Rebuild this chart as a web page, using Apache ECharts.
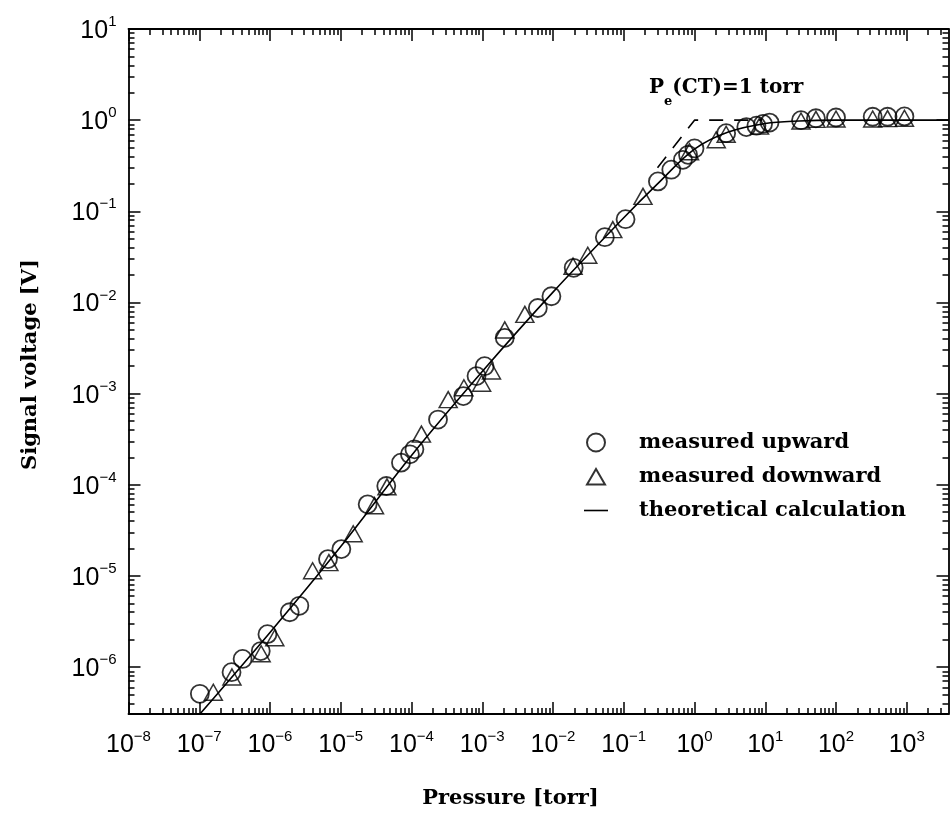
<!DOCTYPE html>
<html><head><meta charset="utf-8">
<script src="https://cdn.jsdelivr.net/npm/echarts@6/dist/echarts.min.js"></script>
<style>html,body{margin:0;padding:0;background:#fff}#c{width:950px;height:814px}</style>
</head><body><div id="c"></div>
<script>
// ---- tick labels (decade exponents) ----
const xTickExponents = [-8, -7, -6, -5, -4, -3, -2, -1, 0, 1, 2, 3];
const yTickExponents = [-6, -5, -4, -3, -2, -1, 0, 1];

// ---- measured upward (circles) ----
const upP = [1.02e-7, 2.86e-7, 4.1e-7, 7.4e-7, 9.2e-7, 1.9e-6, 2.6e-6, 6.6e-6, 1.02e-5, 2.4e-5,
  4.4e-5, 7.1e-5, 9.5e-5, 1.1e-4, 2.37e-4, 5.4e-4, 8.3e-4, 1.08e-3, 2.08e-3, 6.1e-3,
  9.5e-3, 1.96e-2, 5.4e-2, 0.106, 0.304, 0.47, 0.686, 0.81, 1.0, 2.8,
  5.4, 7.5, 9.3, 11.5, 32, 52, 100, 330, 535, 927];
const upV = [5.1e-7, 8.8e-7, 1.23e-6, 1.5e-6, 2.3e-6, 4.0e-6, 4.7e-6, 1.53e-5, 1.97e-5, 6.1e-5,
  9.7e-5, 1.75e-4, 2.16e-4, 2.45e-4, 5.2e-4, 9.4e-4, 1.56e-3, 2.0e-3, 4.1e-3, 8.7e-3,
  1.17e-2, 2.4e-2, 5.2e-2, 8.2e-2, 0.213, 0.286, 0.367, 0.417, 0.49, 0.72,
  0.84, 0.87, 0.91, 0.94, 1.0, 1.05, 1.07, 1.09, 1.09, 1.1];

// ---- measured downward (triangles) ----
const downP = [1.58e-7, 2.9e-7, 7.5e-7, 1.17e-6, 4.0e-6, 6.8e-6, 1.5e-5, 3.0e-5, 4.5e-5, 1.38e-4,
  3.3e-4, 5.5e-4, 9.8e-4, 1.35e-3, 2.08e-3, 4.0e-3, 1.92e-2, 3.1e-2, 7.0e-2, 0.187,
  0.85, 2.03, 2.8, 8.3, 32, 52, 100, 330, 535, 927];
const downV = [5.3e-7, 7.8e-7, 1.4e-6, 2.1e-6, 1.14e-5, 1.4e-5, 2.9e-5, 5.9e-5, 9.5e-5, 3.6e-4,
  8.6e-4, 1.16e-3, 1.3e-3, 1.77e-3, 5.0e-3, 7.4e-3, 2.5e-2, 3.3e-2, 6.3e-2, 0.146,
  0.45, 0.61, 0.70, 0.86, 0.98, 1.02, 1.03, 1.03, 1.04, 1.05];

// ---- theoretical calculation (solid line) ----
const theoP = [1e-7, 1e-6, 1e-5, 1e-4, 1e-3, 1e-2, 1e-1, 0.3, 1, 3, 10, 30, 100, 3890];
const theoV = [3.0e-7, 2.4e-6, 2.1e-5, 2.1e-4, 1.75e-3, 1.3e-2, 8.5e-2, 0.2, 0.48, 0.74, 0.92, 0.98, 1.0, 1.0];

// ---- asymptotes meeting at Pe(CT) = 1 torr (dashed) ----
const asymP = [0.3, 1, 9];
const asymV = [0.3, 1, 1];

const xMin = 1e-8, xMax = 3890, yMin = 3.06e-7, yMax = 10;

const SERIF = '"DejaVu Serif", "Liberation Serif", serif';
const SANS = '"Liberation Sans", Arial, sans-serif';

function minorTicks(lo, hi) {
  const out = [];
  for (let d = Math.floor(Math.log10(lo)) - 1; d <= Math.ceil(Math.log10(hi)); d++) {
    for (let m = 2; m <= 9; m++) {
      const v = m * Math.pow(10, d);
      if (v > lo && v < hi) out.push(v);
    }
  }
  return out;
}
const xMajor = xTickExponents.map(e => Math.pow(10, e));
const yMajor = yTickExponents.map(e => Math.pow(10, e));
const xMinor = minorTicks(xMin, xMax);
const yMinor = minorTicks(yMin, yMax);

function expLabel(v) {
  const e = Math.round(Math.log10(v));
  const s = e < 0 ? '\u2212' + Math.abs(e) : String(e);
  return '{b|10}{e|' + s + '}';
}
const richTick = {
  b: { fontFamily: SANS, fontSize: 25, lineHeight: 29, color: '#000', verticalAlign: 'bottom' },
  e: { fontFamily: SANS, fontSize: 15, lineHeight: 15, color: '#000', verticalAlign: 'top' }
};

const lineCol = '#000';
function xAx(pos, values, len, opts) {
  return Object.assign({
    type: 'log', logBase: 10, min: xMin, max: xMax, position: pos,
    axisLine: { show: true, onZero: false, lineStyle: { color: lineCol, width: 1.8 } },
    axisTick: { show: true, inside: true, length: len, customValues: values, lineStyle: { color: lineCol, width: 1.5 } },
    axisLabel: { show: false },
    splitLine: { show: false }, minorTick: { show: false }, minorSplitLine: { show: false }
  }, opts || {});
}
function yAx(pos, values, len, opts) {
  return Object.assign({
    type: 'log', logBase: 10, min: yMin, max: yMax, position: pos,
    axisLine: { show: true, onZero: false, lineStyle: { color: lineCol, width: 1.8 } },
    axisTick: { show: true, inside: true, length: len, customValues: values, lineStyle: { color: lineCol, width: 1.5 } },
    axisLabel: { show: false },
    splitLine: { show: false }, minorTick: { show: false }, minorSplitLine: { show: false }
  }, opts || {});
}

const chart = echarts.init(document.getElementById('c'), null, { renderer: 'canvas' });
chart.setOption({
  animation: false,
  backgroundColor: '#fff',
  grid: { left: 128.5, right: 1.5, top: 29, bottom: 99, containLabel: false },
  xAxis: [
    xAx('bottom', xMajor, 12, {
      axisLabel: { show: true, customValues: xMajor, margin: 15, formatter: expLabel, rich: richTick },
      name: 'Pressure [torr]', nameLocation: 'middle', nameGap: 74,
      nameTextStyle: { fontFamily: SERIF, fontSize: 21, fontWeight: 'bold', color: '#000', padding: [0, 56, 0, 0] }
    }),
    xAx('top', xMajor, 12),
    xAx('bottom', xMinor, 6, { axisLine: { show: false } }),
    xAx('top', xMinor, 6, { axisLine: { show: false } })
  ],
  yAxis: [
    yAx('left', yMajor, 12, {
      axisLabel: { show: true, customValues: yMajor, margin: 12, formatter: expLabel, rich: richTick },
      name: 'Signal voltage [V]', nameLocation: 'middle', nameGap: 87,
      nameTextStyle: { fontFamily: SERIF, fontSize: 21, fontWeight: 'bold', color: '#000', padding: [0, 0, 0, 14] }
    }),
    yAx('right', yMajor, 12),
    yAx('left', yMinor, 6, { axisLine: { show: false } }),
    yAx('right', yMinor, 6, { axisLine: { show: false } })
  ],
  legend: {
    orient: 'vertical', left: 578, top: 427, itemWidth: 24, itemHeight: 18, itemGap: 13,
    selectedMode: false,
    textStyle: { fontFamily: SERIF, fontSize: 21, fontWeight: 'bold', color: '#000', lineHeight: 18, padding: [0, 0, 0, 26] },
    data: [
      { name: 'measured upward', icon: 'circle' },
      { name: 'measured downward', icon: 'path://M0,0 M24,18 M3,17 L12,1.5 L21,17 Z' },
      { name: 'theoretical calculation', icon: 'path://M0,0 M24,18 M0,8.2 L24,8.2 L24,9.8 L0,9.8 Z',
        itemStyle: { color: '#000', borderWidth: 0 } }
    ]
  },
  graphic: [{
    type: 'text', left: 649, top: 78, z: 10,
    style: {
      text: '{a|P}{s|e}{a|(CT)=1 torr}',
      rich: {
        a: { fontFamily: SERIF, fontSize: 20, fontWeight: 'bold', lineHeight: 23, verticalAlign: 'top', fill: '#000' },
        s: { fontFamily: SERIF, fontSize: 13, fontWeight: 'bold', lineHeight: 14, padding: [17, 0, 0, 0], verticalAlign: 'top', fill: '#000' }
      }
    }
  }],
  series: [
    {
      name: 'theoretical calculation', type: 'line', xAxisIndex: 0, yAxisIndex: 0,
      data: theoP.map((p, i) => [p, theoV[i]]), smooth: 0.35, symbol: 'none',
      lineStyle: { color: '#000', width: 1.6 }, itemStyle: { color: '#000' }, z: 2
    },
    {
      name: 'asymptote', type: 'line', xAxisIndex: 0, yAxisIndex: 0,
      data: asymP.map((p, i) => [p, asymV[i]]), symbol: 'none',
      lineStyle: { color: '#000', width: 1.6, type: [14, 11] }, z: 2
    },
    {
      name: 'measured upward', type: 'scatter', xAxisIndex: 0, yAxisIndex: 0,
      data: upP.map((p, i) => [p, upV[i]]), symbol: 'circle', symbolSize: 18,
      itemStyle: { color: 'rgba(0,0,0,0)', borderColor: '#000', borderWidth: 1.8 }, z: 3
    },
    {
      name: 'measured downward', type: 'scatter', xAxisIndex: 0, yAxisIndex: 0,
      data: downP.map((p, i) => [p, downV[i]]), symbol: 'triangle', symbolSize: [18, 16],
      itemStyle: { color: 'rgba(0,0,0,0)', borderColor: '#000', borderWidth: 1.5 }, z: 3
    }
  ]
});
</script></body></html>
